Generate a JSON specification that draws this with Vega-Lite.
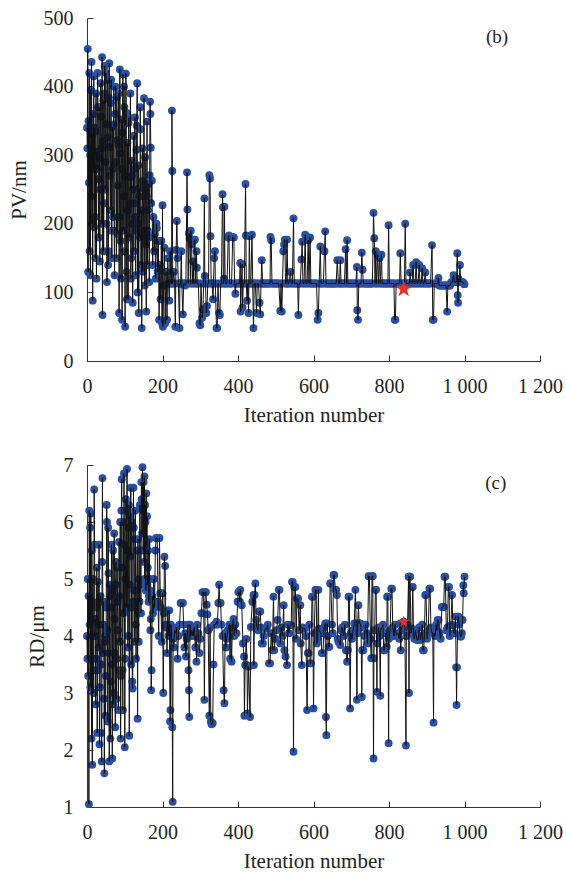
{
"$schema": "https://vega.github.io/schema/vega-lite/v6.json",
"padding": {"left": 8, "top": 8, "right": 0, "bottom": 0},
"spacing": 30,
"config": {
 "view": {"stroke": null},
 "font": "Liberation Serif",
 "axis": {"labelFont": "Liberation Serif", "titleFont": "Liberation Serif", "labelFontSize": 20, "titleFontSize": 21, "titleFontWeight": "normal", "labelColor": "#231f20", "titleColor": "#231f20", "domainColor": "#333333", "tickColor": "#333333", "grid": false, "tickSize": -6, "labelPadding": 21, "labelFlush": false, "format": "d"}
},
"datasets": {
 "pv": [
{"i":0,"v":340},{"i":1,"v":310},{"i":2,"v":455},{"i":3,"v":130},{"i":4,"v":350},{"i":5,"v":260},{"i":6,"v":420},{"i":7,"v":160},{"i":8,"v":300},{"i":9,"v":125},{"i":10,"v":395},{"i":11,"v":240},{"i":12,"v":436},{"i":13,"v":200},{"i":14,"v":330},{"i":15,"v":88},{"i":16,"v":360},{"i":17,"v":280},{"i":18,"v":415},{"i":19,"v":195},{"i":20,"v":340},{"i":21,"v":210},{"i":22,"v":150},{"i":23,"v":335},{"i":24,"v":390},{"i":25,"v":120},{"i":26,"v":305},{"i":27,"v":280},{"i":28,"v":420},{"i":29,"v":370},{"i":30,"v":265},{"i":31,"v":180},{"i":32,"v":370},{"i":33,"v":296},{"i":34,"v":145},{"i":35,"v":250},{"i":36,"v":405},{"i":37,"v":356},{"i":38,"v":310},{"i":39,"v":200},{"i":40,"v":443},{"i":41,"v":67},{"i":42,"v":320},{"i":43,"v":380},{"i":44,"v":160},{"i":45,"v":230},{"i":46,"v":390},{"i":47,"v":430},{"i":48,"v":250},{"i":49,"v":290},{"i":50,"v":420},{"i":51,"v":345},{"i":52,"v":200},{"i":53,"v":115},{"i":54,"v":326},{"i":55,"v":410},{"i":56,"v":140},{"i":57,"v":160},{"i":58,"v":384},{"i":59,"v":434},{"i":60,"v":312},{"i":61,"v":270},{"i":62,"v":220},{"i":63,"v":376},{"i":64,"v":410},{"i":65,"v":190},{"i":66,"v":150},{"i":67,"v":341},{"i":68,"v":280},{"i":69,"v":210},{"i":70,"v":345},{"i":71,"v":400},{"i":72,"v":190},{"i":73,"v":125},{"i":74,"v":288},{"i":75,"v":360},{"i":76,"v":400},{"i":77,"v":290},{"i":78,"v":150},{"i":79,"v":385},{"i":80,"v":322},{"i":81,"v":185},{"i":82,"v":256},{"i":83,"v":315},{"i":84,"v":390},{"i":85,"v":70},{"i":86,"v":210},{"i":87,"v":425},{"i":88,"v":303},{"i":89,"v":175},{"i":90,"v":120},{"i":91,"v":352},{"i":92,"v":280},{"i":93,"v":60},{"i":94,"v":333},{"i":95,"v":418},{"i":96,"v":190},{"i":97,"v":240},{"i":98,"v":400},{"i":99,"v":370},{"i":100,"v":160},{"i":101,"v":50},{"i":102,"v":270},{"i":103,"v":419},{"i":104,"v":362},{"i":105,"v":130},{"i":106,"v":90},{"i":107,"v":318},{"i":108,"v":220},{"i":109,"v":90},{"i":110,"v":347},{"i":111,"v":355},{"i":112,"v":180},{"i":113,"v":230},{"i":114,"v":268},{"i":115,"v":390},{"i":116,"v":120},{"i":117,"v":150},{"i":118,"v":292},{"i":119,"v":270},{"i":120,"v":200},{"i":121,"v":85},{"i":122,"v":250},{"i":123,"v":328},{"i":124,"v":160},{"i":125,"v":230},{"i":126,"v":280},{"i":127,"v":355},{"i":128,"v":210},{"i":129,"v":125},{"i":130,"v":190},{"i":131,"v":308},{"i":132,"v":343},{"i":133,"v":405},{"i":134,"v":100},{"i":135,"v":200},{"i":136,"v":285},{"i":137,"v":70},{"i":138,"v":240},{"i":139,"v":252},{"i":140,"v":180},{"i":141,"v":370},{"i":142,"v":338},{"i":143,"v":140},{"i":144,"v":220},{"i":145,"v":48},{"i":146,"v":262},{"i":147,"v":310},{"i":148,"v":130},{"i":149,"v":180},{"i":150,"v":240},{"i":151,"v":383},{"i":152,"v":190},{"i":153,"v":110},{"i":154,"v":297},{"i":155,"v":250},{"i":156,"v":170},{"i":157,"v":72},{"i":158,"v":240},{"i":159,"v":349},{"i":160,"v":140},{"i":161,"v":190},{"i":162,"v":220},{"i":163,"v":258},{"i":164,"v":180},{"i":165,"v":115},{"i":166,"v":271},{"i":167,"v":378},{"i":168,"v":360},{"i":169,"v":311},{"i":170,"v":230},{"i":172,"v":263},{"i":174,"v":140},{"i":176,"v":210},{"i":178,"v":160},{"i":180,"v":185},{"i":182,"v":120},{"i":184,"v":200},{"i":185,"v":194},{"i":187,"v":130},{"i":189,"v":175},{"i":191,"v":60},{"i":193,"v":140},{"i":195,"v":90},{"i":197,"v":175},{"i":199,"v":55},{"i":200,"v":227},{"i":201,"v":50},{"i":203,"v":110},{"i":205,"v":165},{"i":207,"v":55},{"i":209,"v":130},
{"i":210,"v":130},{"i":212,"v":60},{"i":214,"v":150},{"i":216,"v":113},{"i":218,"v":88},{"i":220,"v":160},{"i":222,"v":113},{"i":224,"v":113},{"i":225,"v":365},{"i":226,"v":277},{"i":227,"v":113},{"i":230,"v":130},{"i":232,"v":113},{"i":234,"v":50},{"i":236,"v":162},{"i":238,"v":204},{"i":240,"v":150},{"i":242,"v":113},{"i":245,"v":48},{"i":246,"v":113},{"i":248,"v":113},{"i":250,"v":160},{"i":251,"v":113},{"i":254,"v":68},{"i":256,"v":113},{"i":258,"v":113},{"i":260,"v":110},{"i":262,"v":113},{"i":265,"v":275},{"i":266,"v":221},{"i":268,"v":113},{"i":270,"v":186},{"i":272,"v":179},{"i":274,"v":113},{"i":275,"v":190},{"i":277,"v":170},{"i":279,"v":113},{"i":281,"v":145},{"i":283,"v":113},{"i":284,"v":176},{"i":286,"v":177},{"i":288,"v":113},{"i":290,"v":160},{"i":291,"v":136},{"i":292,"v":113},{"i":295,"v":113},{"i":298,"v":55},{"i":300,"v":52},{"i":302,"v":113},{"i":305,"v":63},{"i":307,"v":75},{"i":309,"v":113},{"i":311,"v":237},{"i":312,"v":124},{"i":314,"v":113},{"i":316,"v":70},{"i":318,"v":80},{"i":320,"v":113},{"i":322,"v":113},{"i":324,"v":271},{"i":326,"v":266},{"i":327,"v":182},{"i":329,"v":113},{"i":331,"v":113},{"i":334,"v":90},{"i":335,"v":113},{"i":337,"v":150},{"i":339,"v":160},{"i":340,"v":113},{"i":343,"v":48},{"i":345,"v":48},{"i":347,"v":113},{"i":350,"v":70},{"i":352,"v":67},{"i":354,"v":113},{"i":356,"v":113},{"i":359,"v":243},{"i":360,"v":224},{"i":361,"v":113},{"i":363,"v":120},{"i":364,"v":225},{"i":366,"v":113},{"i":368,"v":113},{"i":371,"v":113},{"i":374,"v":180},{"i":376,"v":183},{"i":378,"v":113},{"i":380,"v":113},{"i":383,"v":113},{"i":386,"v":181},{"i":389,"v":180},{"i":391,"v":113},{"i":393,"v":98},{"i":395,"v":113},{"i":398,"v":113},{"i":401,"v":113},{"i":404,"v":113},{"i":406,"v":143},{"i":407,"v":72},{"i":409,"v":113},{"i":411,"v":141},{"i":412,"v":78},{"i":414,"v":113},{"i":417,"v":113},{"i":420,"v":258},{"i":421,"v":183},{"i":422,"v":113},{"i":424,"v":88},{"i":426,"v":113},{"i":428,"v":70},{"i":430,"v":182},{"i":432,"v":113},{"i":434,"v":113},{"i":437,"v":184},{"i":439,"v":113},{"i":441,"v":48},{"i":443,"v":113},{"i":446,"v":113},{"i":449,"v":70},{"i":451,"v":113},{"i":454,"v":113},{"i":457,"v":85},{"i":459,"v":68},{"i":461,"v":113},{"i":463,"v":147},{"i":465,"v":113},{"i":467,"v":113},{"i":470,"v":113},{"i":473,"v":113},{"i":476,"v":113},{"i":479,"v":113},{"i":482,"v":113},{"i":485,"v":113},{"i":486,"v":181},{"i":488,"v":176},{"i":490,"v":113},{"i":493,"v":113},{"i":496,"v":113},{"i":499,"v":113},{"i":502,"v":113},{"i":505,"v":113},{"i":508,"v":113},{"i":512,"v":73},{"i":514,"v":113},{"i":516,"v":72},{"i":518,"v":113},{"i":520,"v":160},{"i":522,"v":170},{"i":524,"v":177},{"i":526,"v":113},{"i":528,"v":113},{"i":530,"v":177},{"i":532,"v":113},{"i":535,"v":113},{"i":539,"v":130},{"i":541,"v":113},{"i":544,"v":113},{"i":547,"v":208},{"i":549,"v":113},{"i":552,"v":113},{"i":555,"v":113},{"i":558,"v":113},{"i":560,"v":67},{"i":562,"v":113},{"i":565,"v":113},{"i":568,"v":148},{"i":570,"v":174},{"i":572,"v":113},{"i":575,"v":113},{"i":578,"v":184},{"i":580,"v":113},{"i":583,"v":113},{"i":586,"v":176},{"i":588,"v":113},{"i":591,"v":180},{"i":593,"v":113},{"i":596,"v":113},{"i":599,"v":113},{"i":602,"v":113},{"i":605,"v":113},{"i":608,"v":113},{"i":611,"v":60},{"i":613,"v":70},{"i":615,"v":113},{"i":618,"v":167},{"i":620,"v":113},{"i":623,"v":113},{"i":626,"v":113},{"i":629,"v":160},{"i":631,"v":189},{"i":633,"v":113},{"i":636,"v":113},{"i":639,"v":113},{"i":642,"v":113},{"i":645,"v":113},{"i":648,"v":113},{"i":651,"v":113},{"i":654,"v":113},{"i":657,"v":113},{"i":660,"v":113},{"i":663,"v":147},{"i":666,"v":113},{"i":669,"v":113},{"i":671,"v":147},{"i":673,"v":113},{"i":676,"v":113},{"i":679,"v":113},{"i":682,"v":113},{"i":685,"v":163},{"i":687,"v":113},{"i":689,"v":176},{"i":691,"v":113},{"i":694,"v":113},{"i":697,"v":113},{"i":700,"v":113},{"i":703,"v":113},{"i":706,"v":113},{"i":709,"v":113},{"i":712,"v":113},{"i":715,"v":137},{"i":716,"v":74},{"i":718,"v":60},{"i":720,"v":113},{"i":723,"v":113},{"i":726,"v":113},{"i":728,"v":158},{"i":730,"v":133},{"i":732,"v":113},{"i":735,"v":113},{"i":738,"v":113},{"i":741,"v":113},{"i":744,"v":113},{"i":747,"v":113},{"i":750,"v":113},{"i":753,"v":113},{"i":756,"v":113},{"i":759,"v":216},{"i":761,"v":179},{"i":763,"v":113},{"i":765,"v":160},{"i":767,"v":113},{"i":770,"v":155},{"i":772,"v":113},{"i":775,"v":150},{"i":777,"v":113},{"i":780,"v":155},{"i":782,"v":113},{"i":785,"v":113},{"i":788,"v":113},{"i":791,"v":113},{"i":794,"v":113},{"i":797,"v":113},{"i":799,"v":198},{"i":801,"v":113},{"i":804,"v":113},{"i":807,"v":113},{"i":810,"v":113},{"i":813,"v":113},{"i":815,"v":60},{"i":817,"v":60},{"i":819,"v":113},{"i":822,"v":113},{"i":825,"v":113},{"i":828,"v":113},{"i":830,"v":157},{"i":832,"v":113},{"i":835,"v":113},{"i":838,"v":113},{"i":841,"v":113},{"i":843,"v":200},{"i":845,"v":113},{"i":848,"v":113},{"i":851,"v":113},{"i":854,"v":113},{"i":856,"v":129},{"i":858,"v":113},{"i":861,"v":113},{"i":864,"v":140},{"i":866,"v":113},{"i":869,"v":113},{"i":872,"v":144},{"i":874,"v":113},{"i":877,"v":113},{"i":880,"v":140},{"i":882,"v":113},{"i":885,"v":113},{"i":888,"v":135},{"i":890,"v":113},{"i":893,"v":113},{"i":896,"v":129},{"i":898,"v":113},{"i":901,"v":113},{"i":904,"v":113},{"i":907,"v":113},{"i":910,"v":113},{"i":914,"v":169},{"i":916,"v":60},{"i":918,"v":60},{"i":920,"v":113},{"i":923,"v":113},{"i":926,"v":113},{"i":929,"v":113},{"i":931,"v":121},{"i":933,"v":110},{"i":936,"v":110},{"i":939,"v":110},{"i":942,"v":110},{"i":945,"v":110},{"i":948,"v":110},{"i":951,"v":110},{"i":954,"v":72},{"i":956,"v":110},{"i":959,"v":110},{"i":962,"v":110},{"i":965,"v":115},{"i":968,"v":115},{"i":971,"v":125},{"i":973,"v":115},{"i":976,"v":115},{"i":979,"v":115},{"i":981,"v":157},{"i":982,"v":96},{"i":983,"v":85},{"i":984,"v":120},{"i":986,"v":115},{"i":988,"v":140},{"i":990,"v":115},{"i":993,"v":115},{"i":996,"v":115},{"i":999,"v":112},{"i":1000,"v":112}
 ],
 "rd": [
{"i":0,"v":4.0},{"i":1,"v":3.6},{"i":2,"v":5.0},{"i":3,"v":3.3},{"i":4,"v":4.7},{"i":5,"v":1.05},{"i":6,"v":6.2},{"i":7,"v":4.2},{"i":8,"v":5.9},{"i":9,"v":3.1},{"i":10,"v":6.15},{"i":11,"v":4.5},{"i":12,"v":2.2},{"i":13,"v":5.5},{"i":14,"v":1.74},{"i":15,"v":4.6},{"i":16,"v":5.0},{"i":17,"v":3.4},{"i":18,"v":3.0},{"i":19,"v":6.57},{"i":20,"v":5.6},{"i":21,"v":4.0},{"i":22,"v":4.3},{"i":23,"v":2.8},{"i":24,"v":3.6},{"i":25,"v":4.5},{"i":26,"v":5.2},{"i":27,"v":2.3},{"i":28,"v":3.4},{"i":29,"v":4.95},{"i":30,"v":4.2},{"i":31,"v":3.8},{"i":32,"v":5.6},{"i":33,"v":2.1},{"i":34,"v":3.1},{"i":35,"v":4.6},{"i":36,"v":4.7},{"i":37,"v":3.5},{"i":38,"v":2.3},{"i":39,"v":1.8},{"i":40,"v":5.3},{"i":41,"v":6.77},{"i":42,"v":3.7},{"i":43,"v":4.2},{"i":44,"v":4.6},{"i":45,"v":2.9},{"i":46,"v":1.59},{"i":47,"v":3.9},{"i":48,"v":4.0},{"i":49,"v":2.6},{"i":50,"v":3.3},{"i":51,"v":4.5},{"i":52,"v":6.3},{"i":53,"v":6.0},{"i":54,"v":4.1},{"i":55,"v":2.5},{"i":56,"v":5.9},{"i":57,"v":5.1},{"i":58,"v":3.7},{"i":59,"v":1.8},{"i":60,"v":4.9},{"i":61,"v":4.7},{"i":62,"v":2.2},{"i":63,"v":3.2},{"i":64,"v":4.5},{"i":65,"v":5.6},{"i":66,"v":3.5},{"i":67,"v":1.85},{"i":68,"v":4.8},{"i":69,"v":5.5},{"i":70,"v":2.8},{"i":71,"v":3.0},{"i":72,"v":5.8},{"i":73,"v":4.3},{"i":74,"v":3.7},{"i":75,"v":2.4},{"i":76,"v":4.9},{"i":77,"v":5.3},{"i":78,"v":2.9},{"i":79,"v":3.6},{"i":80,"v":5.2},{"i":81,"v":4.6},{"i":82,"v":4.1},{"i":83,"v":2.7},{"i":84,"v":3.4},{"i":85,"v":5.65},{"i":86,"v":4.7},{"i":87,"v":3.9},{"i":88,"v":6.0},{"i":89,"v":2.2},{"i":90,"v":3.3},{"i":91,"v":6.2},{"i":92,"v":6.75},{"i":93,"v":5.2},{"i":94,"v":3.4},{"i":95,"v":2.7},{"i":96,"v":6.0},{"i":97,"v":4.4},{"i":98,"v":6.85},{"i":99,"v":5.6},{"i":100,"v":2.05},{"i":101,"v":3.6},{"i":102,"v":5.0},{"i":103,"v":6.4},{"i":104,"v":6.2},{"i":105,"v":4.5},{"i":106,"v":6.93},{"i":107,"v":5.5},{"i":108,"v":3.8},{"i":109,"v":4.0},{"i":110,"v":5.9},{"i":111,"v":6.3},{"i":112,"v":2.25},{"i":113,"v":4.9},{"i":114,"v":6.1},{"i":115,"v":5.4},{"i":116,"v":6.6},{"i":117,"v":3.5},{"i":118,"v":4.5},{"i":119,"v":6.0},{"i":120,"v":3.2},{"i":121,"v":3.08},{"i":122,"v":4.6},{"i":123,"v":6.6},{"i":124,"v":5.9},{"i":125,"v":4.8},{"i":126,"v":3.9},{"i":127,"v":5.7},{"i":128,"v":6.2},{"i":129,"v":4.2},{"i":130,"v":3.6},{"i":131,"v":4.5},{"i":132,"v":4.8},{"i":133,"v":5.5},{"i":134,"v":2.55},{"i":135,"v":5.7},{"i":136,"v":4.4},{"i":137,"v":3.9},{"i":138,"v":5.0},{"i":139,"v":4.6},{"i":140,"v":6.3},{"i":141,"v":5.5},{"i":142,"v":4.9},{"i":143,"v":4.4},{"i":144,"v":6.7},{"i":145,"v":6.4},{"i":146,"v":5.8},{"i":147,"v":6.96},{"i":148,"v":6.2},{"i":149,"v":5.5},{"i":150,"v":6.7},{"i":151,"v":5.3},{"i":152,"v":6.8},{"i":153,"v":5.0},{"i":154,"v":6.3},{"i":155,"v":6.0},{"i":156,"v":4.8},{"i":157,"v":6.5},{"i":158,"v":5.6},{"i":159,"v":6.1},{"i":160,"v":4.9},{"i":161,"v":5.2},{"i":162,"v":5.5},{"i":163,"v":4.6},{"i":164,"v":4.7},{"i":165,"v":5.7},{"i":166,"v":5.0},{"i":167,"v":4.8},{"i":168,"v":4.1},{"i":169,"v":4.3},{"i":170,"v":3.05},{"i":171,"v":3.4},{"i":173,"v":4.7},{"i":175,"v":4.4},{"i":177,"v":5.0},{"i":179,"v":4.5},{"i":181,"v":5.5},{"i":183,"v":5.72},{"i":186,"v":5.72},{"i":188,"v":4.6},{"i":190,"v":4.0},{"i":192,"v":5.72},{"i":194,"v":4.75},{"i":196,"v":4.5},{"i":198,"v":3.9},{"i":200,"v":4.75},{"i":202,"v":3.0},{"i":204,"v":4.4},{"i":205,"v":5.39},{"i":207,"v":5.23},{"i":209,"v":4.2},
{"i":210,"v":4.15},{"i":212,"v":3.7},{"i":214,"v":4.45},{"i":216,"v":4.0},{"i":218,"v":4.45},{"i":220,"v":2.5},{"i":221,"v":2.7},{"i":222,"v":4.2},{"i":224,"v":4.05},{"i":226,"v":2.4},{"i":227,"v":1.09},{"i":228,"v":3.95},{"i":230,"v":3.8},{"i":232,"v":4.1},{"i":235,"v":4.05},{"i":237,"v":4.15},{"i":240,"v":3.6},{"i":242,"v":4.0},{"i":245,"v":4.2},{"i":248,"v":4.58},{"i":252,"v":4.58},{"i":254,"v":4.58},{"i":256,"v":4.2},{"i":258,"v":3.8},{"i":260,"v":4.05},{"i":262,"v":3.64},{"i":264,"v":3.95},{"i":267,"v":4.2},{"i":269,"v":3.4},{"i":270,"v":3.05},{"i":271,"v":2.58},{"i":273,"v":4.2},{"i":275,"v":4.0},{"i":278,"v":4.1},{"i":281,"v":4.0},{"i":284,"v":4.15},{"i":287,"v":3.8},{"i":289,"v":4.0},{"i":290,"v":3.55},{"i":292,"v":4.2},{"i":295,"v":4.05},{"i":298,"v":3.7},{"i":300,"v":3.95},{"i":303,"v":4.4},{"i":306,"v":4.77},{"i":309,"v":4.77},{"i":311,"v":2.88},{"i":313,"v":4.77},{"i":315,"v":4.77},{"i":317,"v":4.55},{"i":319,"v":4.38},{"i":321,"v":4.1},{"i":324,"v":2.6},{"i":326,"v":4.15},{"i":328,"v":2.5},{"i":330,"v":2.45},{"i":333,"v":2.47},{"i":335,"v":3.5},{"i":337,"v":4.2},{"i":340,"v":4.2},{"i":343,"v":4.25},{"i":345,"v":4.2},{"i":348,"v":4.58},{"i":350,"v":4.9},{"i":352,"v":4.58},{"i":354,"v":4.58},{"i":356,"v":4.2},{"i":359,"v":4.0},{"i":362,"v":3.05},{"i":364,"v":2.82},{"i":366,"v":4.05},{"i":368,"v":3.8},{"i":370,"v":3.95},{"i":373,"v":4.1},{"i":377,"v":4.2},{"i":379,"v":3.6},{"i":381,"v":4.2},{"i":383,"v":3.55},{"i":385,"v":4.15},{"i":388,"v":4.3},{"i":390,"v":4.0},{"i":393,"v":4.2},{"i":396,"v":4.05},{"i":399,"v":4.6},{"i":401,"v":4.77},{"i":403,"v":4.77},{"i":405,"v":4.6},
{"i":406,"v":4.81},{"i":410,"v":4.54},{"i":413,"v":3.87},{"i":416,"v":3.64},{"i":417,"v":2.6},{"i":419,"v":3.49},{"i":422,"v":3.95},{"i":424,"v":3.49},{"i":425,"v":2.64},{"i":428,"v":3.46},{"i":432,"v":2.58},{"i":434,"v":4.16},{"i":438,"v":4.6},{"i":441,"v":4.72},{"i":442,"v":3.49},{"i":444,"v":4.72},{"i":446,"v":4.92},{"i":448,"v":4.28},{"i":450,"v":4.16},{"i":453,"v":4.1},{"i":456,"v":4.43},{"i":459,"v":4.43},{"i":461,"v":4.15},{"i":463,"v":3.87},{"i":466,"v":3.87},{"i":468,"v":4.0},{"i":472,"v":4.13},{"i":476,"v":4.13},{"i":479,"v":4.2},{"i":482,"v":3.52},{"i":485,"v":3.52},{"i":488,"v":4.05},{"i":491,"v":3.75},{"i":494,"v":4.69},{"i":496,"v":3.75},{"i":499,"v":3.95},{"i":502,"v":4.1},{"i":505,"v":4.28},{"i":508,"v":4.81},{"i":510,"v":4.81},{"i":512,"v":3.87},{"i":515,"v":4.15},{"i":518,"v":4.0},{"i":521,"v":4.54},{"i":523,"v":3.75},{"i":526,"v":3.64},{"i":530,"v":3.49},{"i":532,"v":4.2},{"i":535,"v":4.05},{"i":538,"v":4.19},{"i":541,"v":4.19},{"i":543,"v":4.95},{"i":545,"v":4.95},{"i":547,"v":1.97},{"i":549,"v":4.86},{"i":552,"v":4.86},{"i":554,"v":3.95},{"i":556,"v":4.66},{"i":559,"v":4.66},{"i":562,"v":4.1},{"i":565,"v":4.54},{"i":566,"v":3.87},{"i":569,"v":3.49},{"i":571,"v":4.15},{"i":574,"v":4.13},{"i":577,"v":4.13},{"i":580,"v":4.0},{"i":583,"v":2.7},{"i":585,"v":3.7},{"i":587,"v":3.7},{"i":589,"v":4.2},{"i":591,"v":3.52},{"i":593,"v":3.52},{"i":596,"v":4.69},{"i":598,"v":4.69},{"i":600,"v":2.73},{"i":602,"v":4.05},{"i":605,"v":4.81},{"i":607,"v":4.81},{"i":609,"v":3.87},{"i":611,"v":3.95},{"i":613,"v":4.81},{"i":614,"v":4.13},{"i":616,"v":4.1},{"i":618,"v":4.05},{"i":620,"v":4.05},{"i":622,"v":3.7},{"i":625,"v":3.7},{"i":628,"v":4.15},{"i":631,"v":4.22},{"i":633,"v":2.58},{"i":634,"v":2.26},{"i":636,"v":4.22},{"i":638,"v":4.0},{"i":640,"v":3.81},{"i":642,"v":3.81},{"i":644,"v":4.92},{"i":646,"v":4.92},{"i":649,"v":4.2},{"i":651,"v":4.05},{"i":653,"v":5.07},{"i":655,"v":5.07},{"i":658,"v":4.81},{"i":660,"v":4.81},{"i":662,"v":4.72},{"i":664,"v":3.95},{"i":666,"v":3.9},{"i":668,"v":3.9},{"i":671,"v":3.84},{"i":673,"v":4.1},{"i":676,"v":4.15},{"i":680,"v":4.0},{"i":683,"v":4.2},{"i":686,"v":3.75},{"i":689,"v":3.55},{"i":691,"v":3.75},{"i":693,"v":4.69},{"i":695,"v":4.69},{"i":697,"v":2.73},{"i":699,"v":4.05},{"i":702,"v":3.95},{"i":705,"v":4.1},{"i":708,"v":4.22},{"i":711,"v":4.81},{"i":713,"v":4.22},{"i":715,"v":2.88},{"i":716,"v":4.05},{"i":719,"v":4.54},{"i":721,"v":4.22},{"i":724,"v":4.22},{"i":726,"v":4.15},{"i":728,"v":2.93},{"i":729,"v":3.75},{"i":732,"v":3.75},{"i":735,"v":4.0},{"i":738,"v":4.2},{"i":741,"v":4.05},{"i":743,"v":3.87},{"i":746,"v":5.05},{"i":748,"v":5.05},{"i":751,"v":3.95},{"i":753,"v":3.61},{"i":755,"v":5.05},{"i":757,"v":5.05},{"i":759,"v":1.85},{"i":760,"v":3.61},{"i":762,"v":4.1},{"i":764,"v":4.81},{"i":766,"v":4.81},{"i":768,"v":3.02},{"i":769,"v":3.87},{"i":772,"v":4.15},{"i":775,"v":4.0},{"i":777,"v":2.95},{"i":778,"v":4.13},{"i":781,"v":4.13},{"i":784,"v":4.2},{"i":786,"v":3.75},{"i":788,"v":3.75},{"i":791,"v":4.05},{"i":794,"v":3.81},{"i":795,"v":4.69},{"i":797,"v":4.69},{"i":799,"v":2.12},{"i":800,"v":3.95},{"i":803,"v":4.1},{"i":806,"v":4.83},{"i":808,"v":4.83},{"i":810,"v":4.15},{"i":813,"v":4.0},{"i":816,"v":4.2},{"i":819,"v":4.02},{"i":821,"v":4.02},{"i":824,"v":4.05},{"i":827,"v":3.95},{"i":830,"v":4.22},{"i":831,"v":3.75},{"i":833,"v":4.1},{"i":836,"v":4.22},{"i":839,"v":4.25},{"i":842,"v":4.15},{"i":845,"v":2.08},{"i":846,"v":4.0},{"i":849,"v":4.2},{"i":852,"v":5.04},{"i":853,"v":3.0},{"i":854,"v":5.04},{"i":856,"v":5.04},{"i":858,"v":4.05},{"i":861,"v":4.13},{"i":863,"v":4.86},{"i":865,"v":4.02},{"i":867,"v":3.95},{"i":870,"v":4.1},{"i":874,"v":3.93},{"i":877,"v":3.93},{"i":880,"v":4.15},{"i":883,"v":3.93},{"i":885,"v":4.0},{"i":888,"v":4.2},{"i":890,"v":3.75},{"i":892,"v":3.75},{"i":894,"v":4.05},{"i":896,"v":4.72},{"i":898,"v":4.72},{"i":901,"v":3.95},{"i":904,"v":4.1},{"i":907,"v":4.83},{"i":909,"v":4.83},{"i":911,"v":4.15},{"i":914,"v":4.05},{"i":916,"v":4.05},{"i":918,"v":2.48},{"i":919,"v":4.05},{"i":922,"v":4.0},{"i":925,"v":4.2},{"i":927,"v":4.1},{"i":929,"v":4.28},{"i":931,"v":4.28},{"i":934,"v":4.05},{"i":937,"v":3.95},{"i":940,"v":4.51},{"i":943,"v":4.51},{"i":945,"v":4.51},{"i":947,"v":5.04},{"i":949,"v":5.04},{"i":952,"v":4.1},{"i":955,"v":4.15},{"i":957,"v":4.86},{"i":959,"v":4.86},{"i":961,"v":4.0},{"i":964,"v":4.19},{"i":967,"v":4.72},{"i":969,"v":4.19},{"i":971,"v":4.05},{"i":973,"v":4.05},{"i":976,"v":4.34},{"i":978,"v":3.45},{"i":979,"v":2.79},{"i":980,"v":3.45},{"i":982,"v":4.34},{"i":984,"v":4.34},{"i":986,"v":4.2},{"i":989,"v":3.99},{"i":991,"v":3.99},{"i":993,"v":4.05},{"i":995,"v":4.28},{"i":997,"v":4.89},{"i":998,"v":4.75},{"i":1000,"v":5.04}
 ]
},
"vconcat": [
 {
  "width": 453, "height": 343,
  "layer": [
   {"data": {"name": "pv"}, "mark": {"type": "point", "filled": true, "shape": "circle", "size": 62, "color": "#2b4f9f", "opacity": 1},
    "encoding": {
     "x": {"field": "i", "type": "quantitative", "scale": {"domain": [0, 1200], "nice": false}, "axis": {"values": [0,200,400,600,800,1000,1200], "labelExpr": "replace(format(datum.value, ','), ',', ' ')", "title": "Iteration number", "titlePadding": 8}},
     "y": {"field": "v", "type": "quantitative", "scale": {"domain": [0, 500], "nice": false}, "axis": {"values": [0,100,200,300,400,500], "title": "PV/nm", "titlePadding": 14, "labelPadding": 20}}
    }},
   {"data": {"name": "pv"}, "mark": {"type": "line", "color": "#111111", "strokeWidth": 1},
    "encoding": {"x": {"field": "i", "type": "quantitative"}, "y": {"field": "v", "type": "quantitative"}}},
   {"data": {"values": [{"i": 839, "v": 105}]}, "mark": {"type": "point", "filled": true, "shape": "M0,-1L0.2245,-0.309L0.951,-0.309L0.363,0.118L0.588,0.809L0,0.382L-0.588,0.809L-0.363,0.118L-0.951,-0.309L-0.2245,-0.309Z", "size": 320, "color": "#e8302a", "opacity": 1},
    "encoding": {"x": {"field": "i", "type": "quantitative"}, "y": {"field": "v", "type": "quantitative"}}},
   {"data": {"values": [{"i": 1086, "v": 472, "t": "(b)"}]}, "mark": {"type": "text", "font": "Liberation Serif", "fontSize": 19, "color": "#231f20"},
    "encoding": {"x": {"field": "i", "type": "quantitative"}, "y": {"field": "v", "type": "quantitative"}, "text": {"field": "t"}}}
  ]
 },
 {
  "width": 453, "height": 342,
  "layer": [
   {"data": {"name": "rd"}, "mark": {"type": "point", "filled": true, "shape": "circle", "size": 62, "color": "#2b4f9f", "opacity": 1},
    "encoding": {
     "x": {"field": "i", "type": "quantitative", "scale": {"domain": [0, 1200], "nice": false}, "axis": {"values": [0,200,400,600,800,1000,1200], "labelExpr": "replace(format(datum.value, ','), ',', ' ')", "title": "Iteration number", "titlePadding": 8}},
     "y": {"field": "v", "type": "quantitative", "scale": {"domain": [1, 7], "nice": false, "zero": false}, "axis": {"values": [1,2,3,4,5,6,7], "title": "RD/μm", "titlePadding": 16, "labelPadding": 20}}
    }},
   {"data": {"name": "rd"}, "mark": {"type": "line", "color": "#111111", "strokeWidth": 1},
    "encoding": {"x": {"field": "i", "type": "quantitative"}, "y": {"field": "v", "type": "quantitative"}}},
   {"data": {"values": [{"i": 839, "v": 4.25}]}, "mark": {"type": "point", "filled": true, "shape": "M0,-1L0.2245,-0.309L0.951,-0.309L0.363,0.118L0.588,0.809L0,0.382L-0.588,0.809L-0.363,0.118L-0.951,-0.309L-0.2245,-0.309Z", "size": 160, "color": "#e8302a", "opacity": 1},
    "encoding": {"x": {"field": "i", "type": "quantitative"}, "y": {"field": "v", "type": "quantitative"}}},
   {"data": {"values": [{"i": 1083, "v": 6.69, "t": "(c)"}]}, "mark": {"type": "text", "font": "Liberation Serif", "fontSize": 19, "color": "#231f20"},
    "encoding": {"x": {"field": "i", "type": "quantitative"}, "y": {"field": "v", "type": "quantitative"}, "text": {"field": "t"}}}
  ]
 }
]
}
